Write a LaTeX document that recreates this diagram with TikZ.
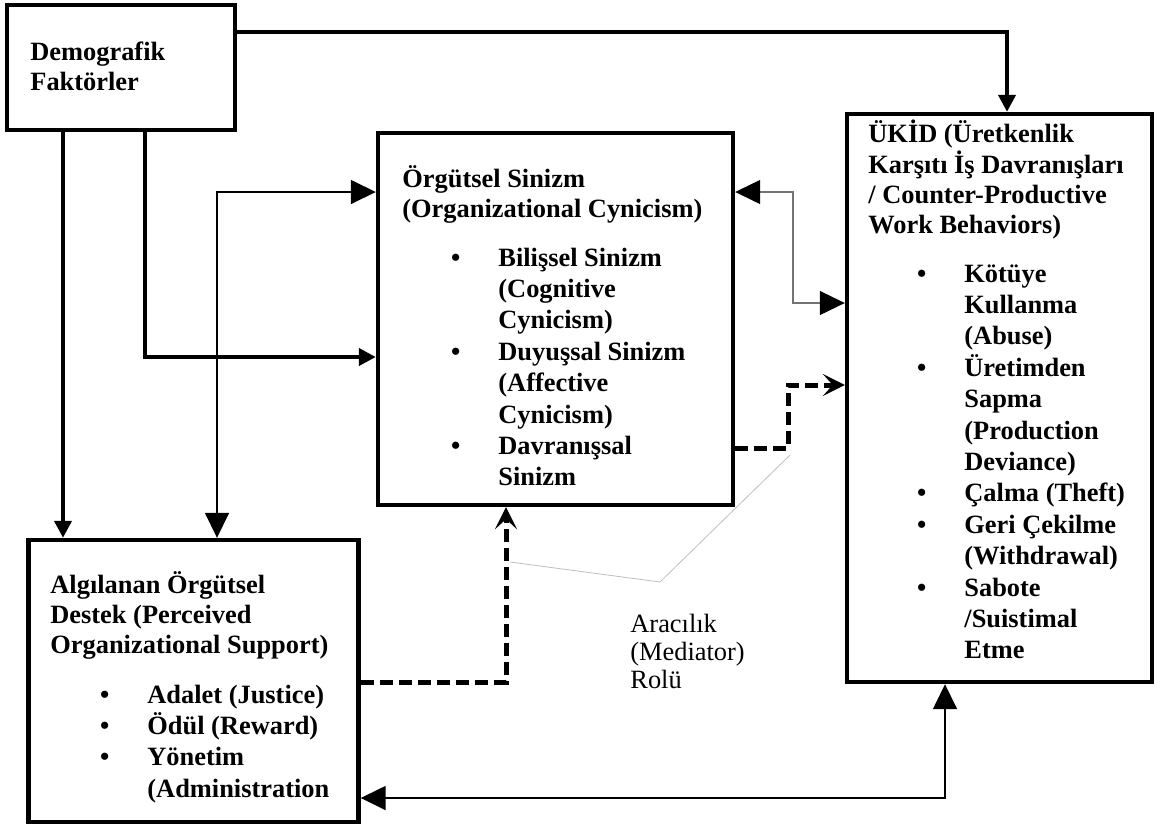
\documentclass[tikz,border=0pt]{standalone}
\usepackage{fontspec}
\setmainfont{Liberation Serif}
\usetikzlibrary{arrows.meta, positioning}
\newcommand{\blk}[1]{\begin{tabular}[t]{@{}l@{}}#1\end{tabular}}
\newcommand{\itm}{\llap{\textbullet\hspace{19pt}}}

\begin{document}
\begin{tikzpicture}[x=0.5pt, y=-0.5pt,
      box/.style={draw, line width=2.2pt, inner sep=0pt},
      ttl/.style={anchor=base west, inner sep=0pt, font=\fontsize{13.2}{15}\selectfont\bfseries},
      lst/.style={anchor=base west, inner sep=0pt, font=\fontsize{13.2}{15.7}\selectfont\bfseries},
      tri/.tip={Triangle[length=12.5pt, width=12pt, color=black]},
      smalltri/.tip={Triangle[length=8.5pt, width=8.5pt]},
      chev/.tip={Stealth[length=11pt, width=11pt, inset=5pt]},
      thickarr/.style={line width=2pt, -smalltri},
      thinarr/.style={line width=0.8pt, tri-tri},
      dasharr/.style={line width=2.5pt, dash pattern=on 6.5pt off 3pt, -chev},
      callout/.style={black!25, line width=0.4pt}]
    \useasboundingbox (0,0) rectangle (1155,826);
    % boxes
    \node[box, minimum width=114pt, minimum height=62.5pt] (demo) at (121,67.5) {};
    \node[box, minimum width=177.5pt, minimum height=186pt] (orgut) at (555.5,319) {};
    \node[box, minimum width=152.5pt, minimum height=284pt] (ukid) at (999.5,398) {};
    \node[box, minimum width=165pt, minimum height=141pt] (algi) at (193.5,681) {};
    % texts
    \node[ttl] (demot) at (30,60) {\blk{Demografik\\Faktörler}};
    \node[ttl] (orgutt) at (402,187) {\blk{Örgütsel Sinizm\\(Organizational Cynicism)}};
    \node[lst] (orgutl) at (498,266) {\blk{\itm Bilişsel Sinizm\\(Cognitive\\Cynicism)\\
      \itm Duyuşsal Sinizm\\(Affective\\Cynicism)\\\itm Davranışsal\\Sinizm}};
    \node[ttl] (ukidt) at (868,142) {\blk{ÜKİD (Üretkenlik\\Karşıtı İş Davranışları\\
      / Counter-Productive\\Work Behaviors)}};
    \node[lst] (ukidl) at (964,282) {\blk{\itm Kötüye\\Kullanma\\(Abuse)\\\itm Üretimden\\Sapma\\
      (Production\\Deviance)\\\itm Çalma (Theft)\\\itm Geri Çekilme\\(Withdrawal)\\
      \itm Sabote\\/Suistimal\\Etme}};
    \node[ttl] (algit) at (50,593) {\blk{Algılanan Örgütsel\\Destek (Perceived\\
      Organizational Support)}};
    \node[lst] (algil) at (147,703) {\blk{\itm Adalet (Justice)\\\itm Ödül (Reward)\\
      \itm Yönetim\\(Administration}};
    \node[anchor=base west, inner sep=0pt, font=\fontsize{13.2}{14}\selectfont]
      (med) at (630,632) {\blk{Aracılık\\(Mediator)\\Rolü}};
    % connectors
    \draw[thickarr] (demo.east |- 0,32) -| (ukid.north -| 1007,0);
    \draw[thickarr] (demo.south -| 63,0) -- (algi.north -| 63,0);
    \draw[thickarr] (demo.south -| 145,0) |- (orgut.west |- 0,357);
    \draw[thinarr] (algi.north -| 217,0) |- (orgut.west |- 0,192);
    \draw[thinarr, black!55, line width=0.6pt] (orgut.east |- 0,192) -| (793,303) -- (ukid.west |- 0,303);
    \draw[thinarr] (algi.east |- 0,798) -| (ukid.south -| 945,0);
    \draw[dasharr] (orgut.east |- 0,448) -| (788,385) -- (ukid.west |- 0,385);
    \draw[dasharr] (algi.east |- 0,682) -| (orgut.south -| 506,0);
    % mediator callout
    \coordinate (medtip) at (660,582);
    \draw[callout] (510,562) -- (medtip) -- (790,455);
  \end{tikzpicture}
\end{document}
